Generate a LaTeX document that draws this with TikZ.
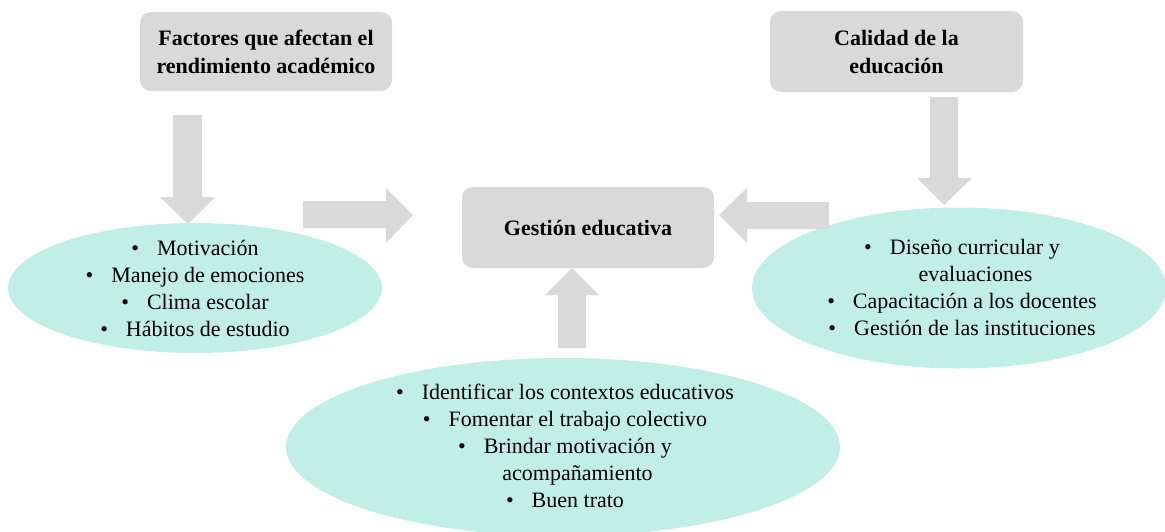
\documentclass[tikz,border=0pt]{standalone}
\usepackage{fontspec}
\setmainfont{Liberation Serif}
\usetikzlibrary{shapes.geometric}
\definecolor{boxgray}{HTML}{D9D9D9}
\definecolor{teal}{HTML}{C1EFE6}
\tikzset{
  titlebox/.style={rectangle, rounded corners=11pt, fill=boxgray, inner sep=0pt,
    align=center, font=\fontsize{22}{28}\selectfont\bfseries},
  bubble/.style={ellipse, fill=teal, inner sep=0pt},
  bubbletext/.style={align=center, inner sep=0pt, font=\fontsize{22}{27}\selectfont},
  blockarrow/.style={fill=boxgray, draw=none}
}
\newcommand{\bul}{\textbullet\hspace{18pt}}
\begin{document}
\begin{tikzpicture}[x=1pt,y=-1pt]
\useasboundingbox (0,0) rectangle (1165,531);
% title boxes
\node[titlebox, minimum width=252pt, minimum height=79pt] (fact) at (266,51.5)
  {Factores que afectan el\\rendimiento académico};
\node[titlebox, minimum width=253pt, minimum height=81pt] (cal) at (896.5,51.5)
  {Calidad de la\\educación};
\node[titlebox, minimum width=252pt, minimum height=81pt] (gest) at (588,227.5)
  {Gestión educativa};
% ellipses
\node[bubble, minimum width=374pt, minimum height=130pt] (eleft) at (195,288) {};
\node[bubble, minimum width=414pt, minimum height=161pt] (eright) at (959,288) {};
\node[bubble, minimum width=554pt, minimum height=178pt] (ebot) at (563,447) {};
\node[bubbletext] (tleft) at (eleft.center)
  {\bul Motivación\\\bul Manejo de emociones\\\bul Clima escolar\\\bul Hábitos de estudio};
\node[bubbletext] (tright) at ([xshift=3pt,yshift=1pt]eright.center)
  {\bul Diseño curricular y\\\hspace*{27pt}evaluaciones\\\bul Capacitación a los docentes\\\bul Gestión de las instituciones};
\node[bubbletext] (tbot) at ([xshift=2pt,yshift=1pt]ebot.center)
  {\bul Identificar los contextos educativos\\\bul Fomentar el trabajo colectivo\\\bul Brindar motivación y\\\hspace*{25pt}acompañamiento\\\bul Buen trato};
% block arrows
\fill[blockarrow] (173,115) -- (202,115) -- (202,197) -- (215,197) -- (188,224)
  -- (160,197) -- (173,197) -- cycle;
\fill[blockarrow] (303,201) -- (386,201) -- (386,188) -- (413,215) -- (386,243)
  -- (386,228) -- (303,228) -- cycle;
\fill[blockarrow] (829,202) -- (747,202) -- (747,188) -- (719,215) -- (747,243)
  -- (747,229) -- (829,229) -- cycle;
\fill[blockarrow] (930,97) -- (958,97) -- (958,178) -- (972,178) -- (944,205)
  -- (917,178) -- (930,178) -- cycle;
\fill[blockarrow] (558,348) -- (558,295) -- (545,295) -- (572,268) -- (599,295)
  -- (586,295) -- (586,348) -- cycle;
\end{tikzpicture}
\end{document}
